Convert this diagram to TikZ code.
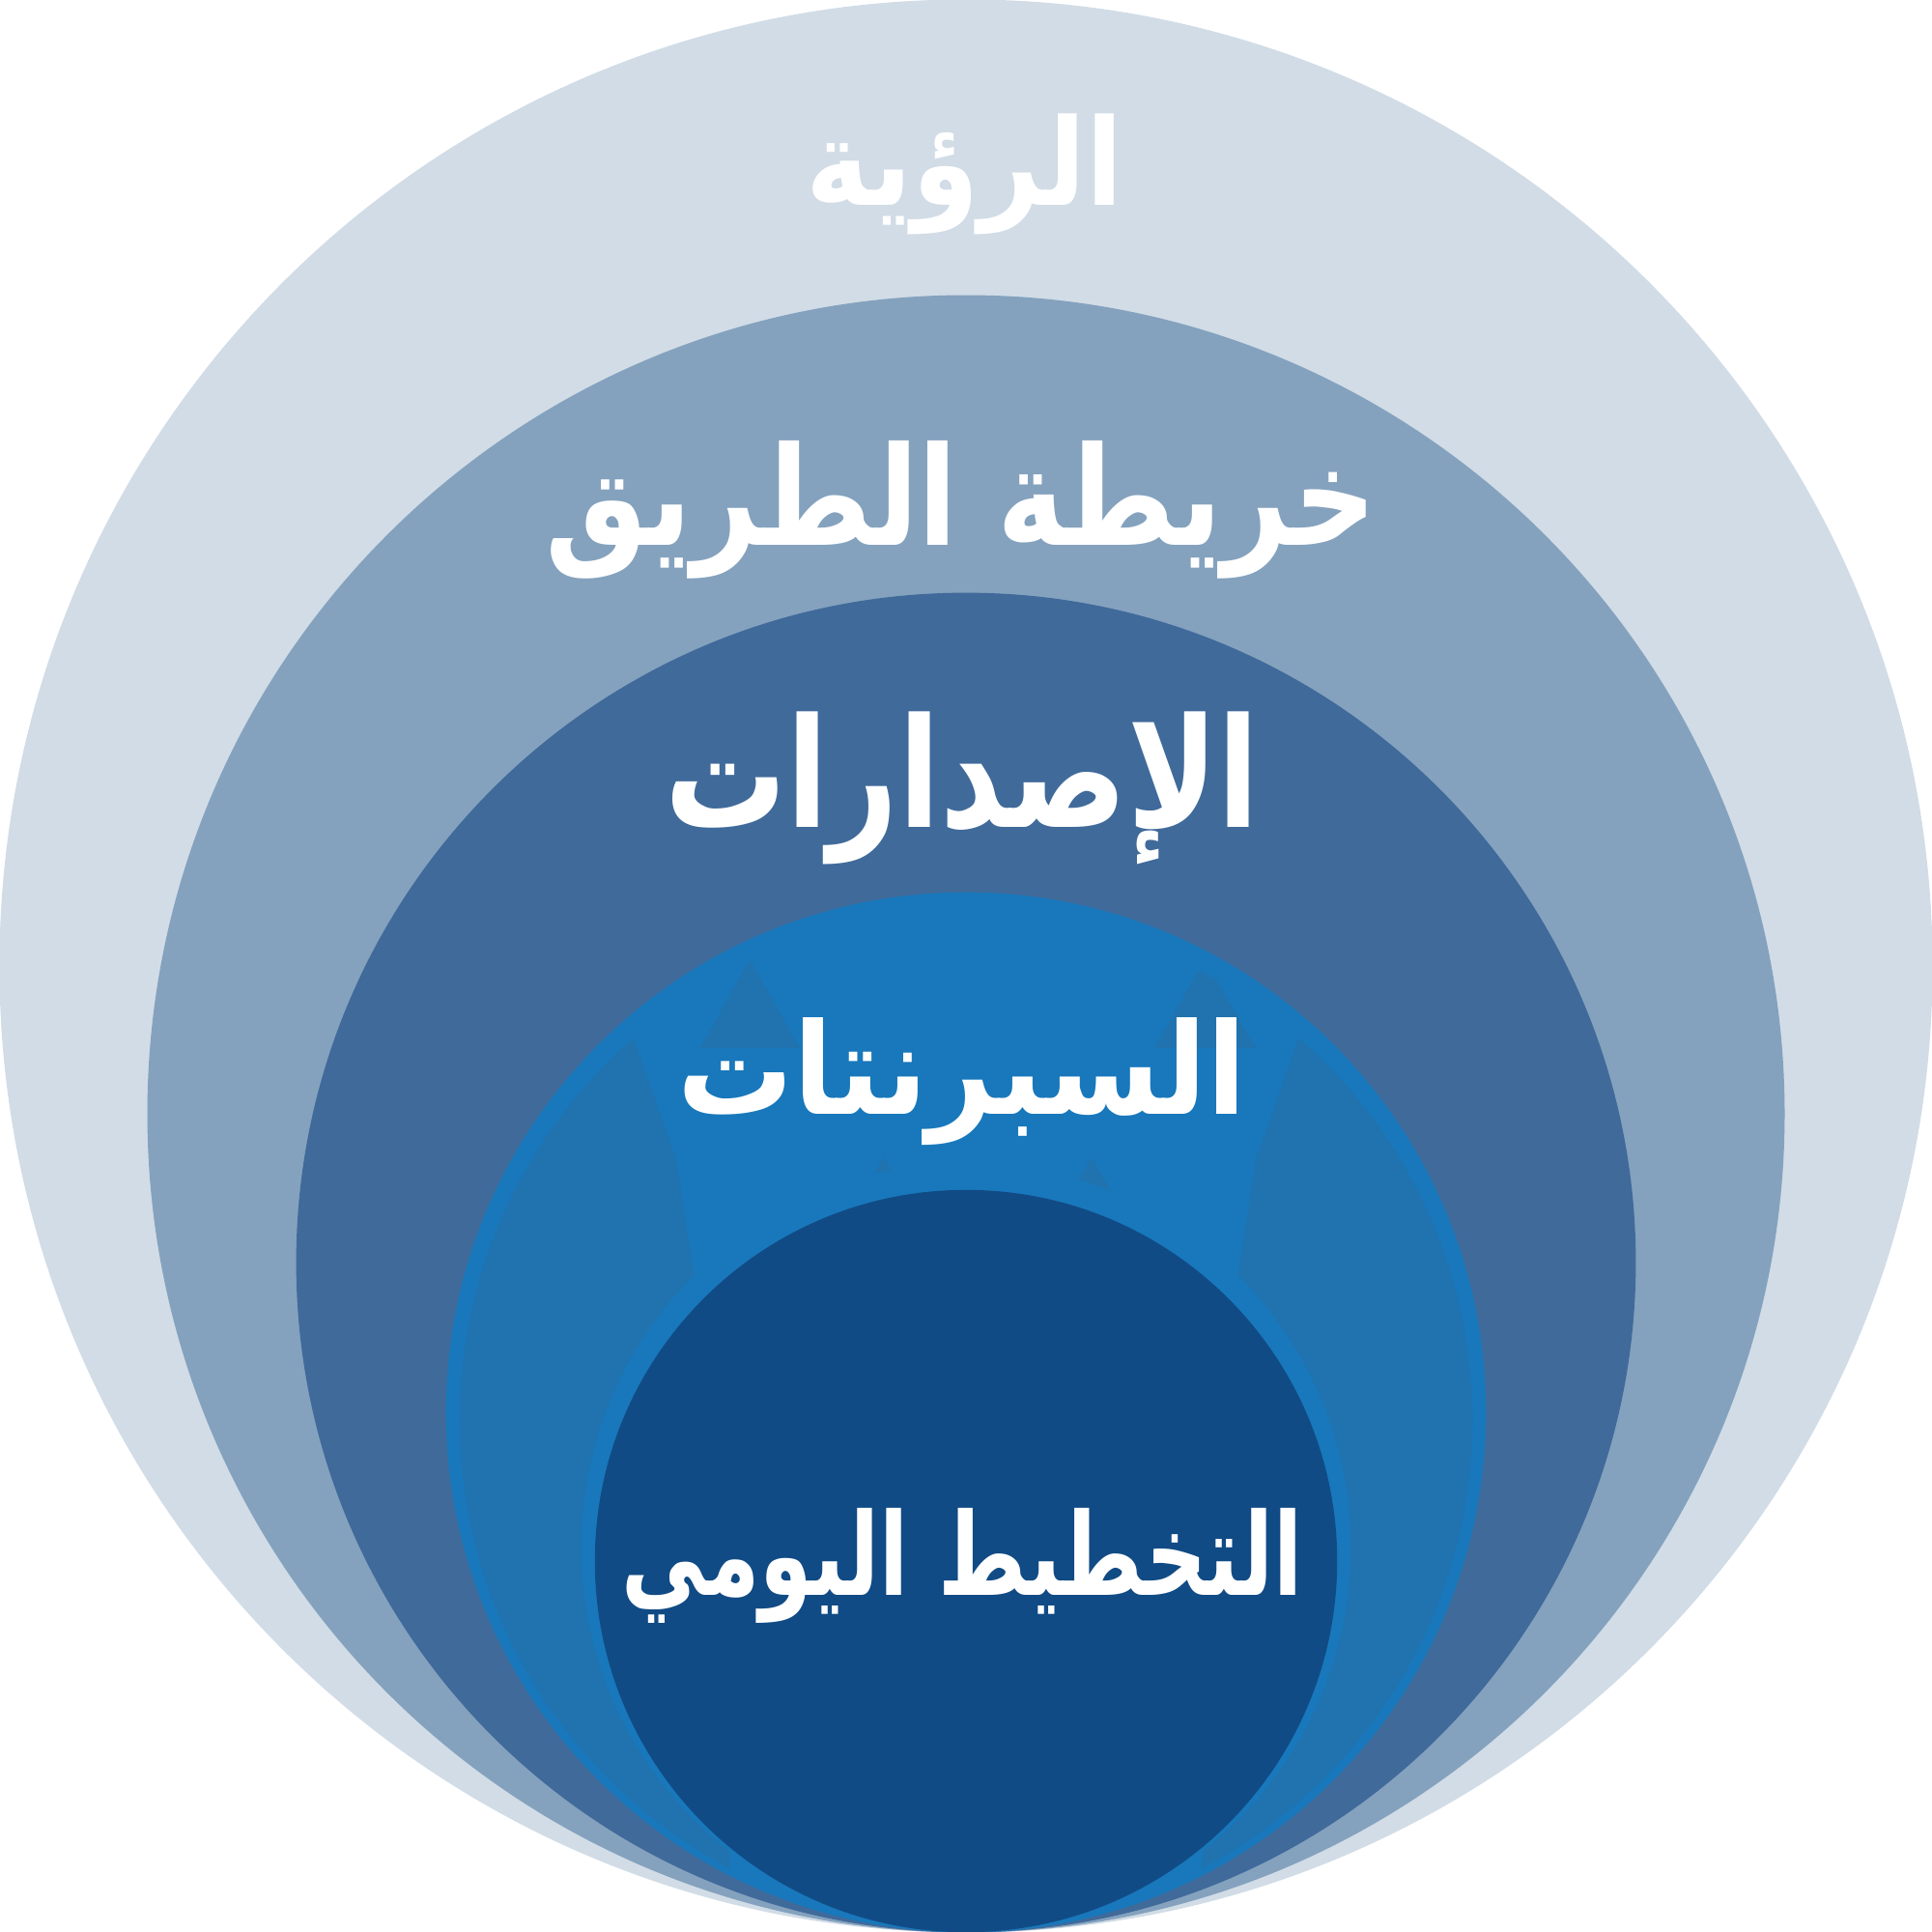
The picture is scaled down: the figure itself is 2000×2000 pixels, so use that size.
\documentclass[tikz,border=0pt]{standalone}
\usepackage{fontspec}
\usepackage{graphicx}
\newfontfamily\arabicfont[Script=Arabic]{DejaVu Sans}
\TeXXeTstate=1
\definecolor{ringA}{HTML}{D1DCE6}
\definecolor{ringB}{HTML}{84A2BE}
\definecolor{ringC}{HTML}{406A9A}
\definecolor{ringD}{HTML}{1878BB}
\definecolor{ringDdark}{HTML}{2073AF}
\definecolor{ringE}{HTML}{114B85}
\definecolor{txtwhite}{HTML}{FFFFFF}
\tikzset{
  lbl/.style={inner sep=0pt, outer sep=0pt, text=txtwhite, font=\arabicfont\bfseries},
  tex/.style={fill=ringDdark}
}
\begin{document}
\begin{tikzpicture}[x=0.01cm,y=-0.01cm]
\useasboundingbox (0,0) rectangle (2000,2000);
% rings
\fill[ringA] (1000,1000) circle[radius=10cm];
\fill[ringB] (1000,1153) circle[radius=8.47cm];
\fill[ringC] (1000,1307) circle[radius=6.93cm];
\fill[ringD] (1000,1462) circle[radius=5.38cm];
\begin{scope}
  \clip (1000,1470) circle[radius=5.24cm];
  \fill[tex] (560,1080) -- (640,1030) -- (700,1200) -- (720,1330) -- (760,2000) -- (470,2000) -- (470,1200) -- cycle;
  \fill[tex] (1440,1080) -- (1360,1030) -- (1300,1200) -- (1280,1330) -- (1240,2000) -- (1530,2000) -- (1530,1200) -- cycle;
  \fill[tex] (776,993) -- (725,1085) -- (828,1085) -- cycle;
  \fill[tex] (1247,993) -- (1195,1085) -- (1300,1085) -- cycle;
  \fill[tex] (915,1198) -- (888,1245) -- (942,1245) -- cycle;
  \fill[tex] (1130,1198) -- (1103,1245) -- (1157,1245) -- cycle;
\end{scope}
\fill[ringD] (1000,1602) circle[radius=3.98cm];
\fill[ringE] (1000,1616) circle[radius=3.84cm];
% labels
\node[lbl] (vision) at (999,180) {\resizebox*{3.28cm}{1.25cm}{\beginR الرؤية\endR}};
\node[lbl] (roadmap) at (995,528) {\resizebox*{8.6cm}{1.43cm}{\beginR خريطة الطريق\endR}};
\node[lbl] (releases) at (996,816) {\resizebox*{6.15cm}{1.58cm}{\beginR الإصدارات\endR}};
\node[lbl] (sprints) at (996,1120) {\resizebox*{5.89cm}{1.32cm}{\beginR السبرنتات\endR}};
\node[lbl] (daily) at (996,1621) {\resizebox*{7.04cm}{1.19cm}{\beginR التخطيط اليومي\endR}};
\end{tikzpicture}
\end{document}
